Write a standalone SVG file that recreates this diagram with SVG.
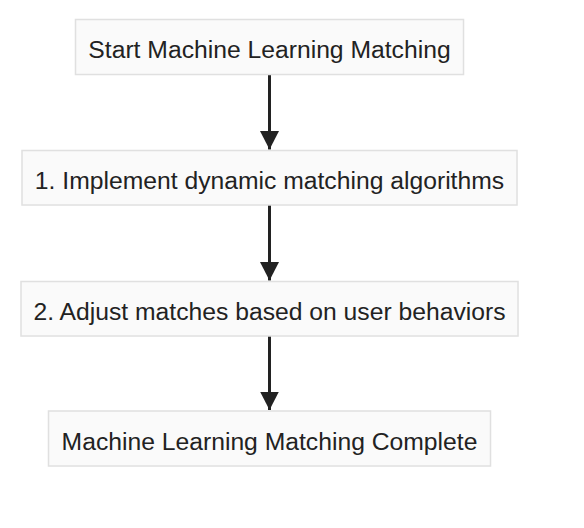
<svg xmlns="http://www.w3.org/2000/svg" width="584" height="528" viewBox="0 0 584 528">
<style>
.box{fill:#fafafa;stroke:#e0e0e0;stroke-width:1.5}
.lbl{font-family:"Liberation Sans",Arial,Helvetica,sans-serif;font-size:24.7px;fill:#222;text-anchor:middle}
.edge{stroke:#222;stroke-width:3;fill:none}
</style>
<defs>
<marker id="arrow" markerUnits="userSpaceOnUse" markerWidth="20" markerHeight="19" refX="10" refY="18.5" orient="0" viewBox="0 0 20 19">
<path d="M0.5,0 L19.5,0 L10,18.5 Z" fill="#222"/>
</marker>
</defs>
<rect width="584" height="528" fill="#ffffff"/>
<g id="connectors">
<line class="edge" x1="269.5" y1="74.5" x2="269.5" y2="149.5" marker-end="url(#arrow)"/>
<line class="edge" x1="269.5" y1="205" x2="269.5" y2="280.5" marker-end="url(#arrow)"/>
<line class="edge" x1="269.5" y1="336" x2="269.5" y2="410" marker-end="url(#arrow)"/>
</g>
<g id="start">
<rect class="box" x="75.5" y="19.5" width="388" height="55"/>
<text class="lbl" x="269.5" y="58">Start Machine Learning Matching</text>
</g>
<g id="step1">
<rect class="box" x="22" y="150.5" width="495" height="54.5"/>
<text class="lbl" x="269.5" y="189">1. Implement dynamic matching algorithms</text>
</g>
<g id="step2">
<rect class="box" x="21" y="281.5" width="497" height="54.5"/>
<text class="lbl" x="269.5" y="320">2. Adjust matches based on user behaviors</text>
</g>
<g id="end">
<rect class="box" x="48.5" y="411" width="442" height="55"/>
<text class="lbl" x="269.5" y="449.5">Machine Learning Matching Complete</text>
</g>
</svg>
